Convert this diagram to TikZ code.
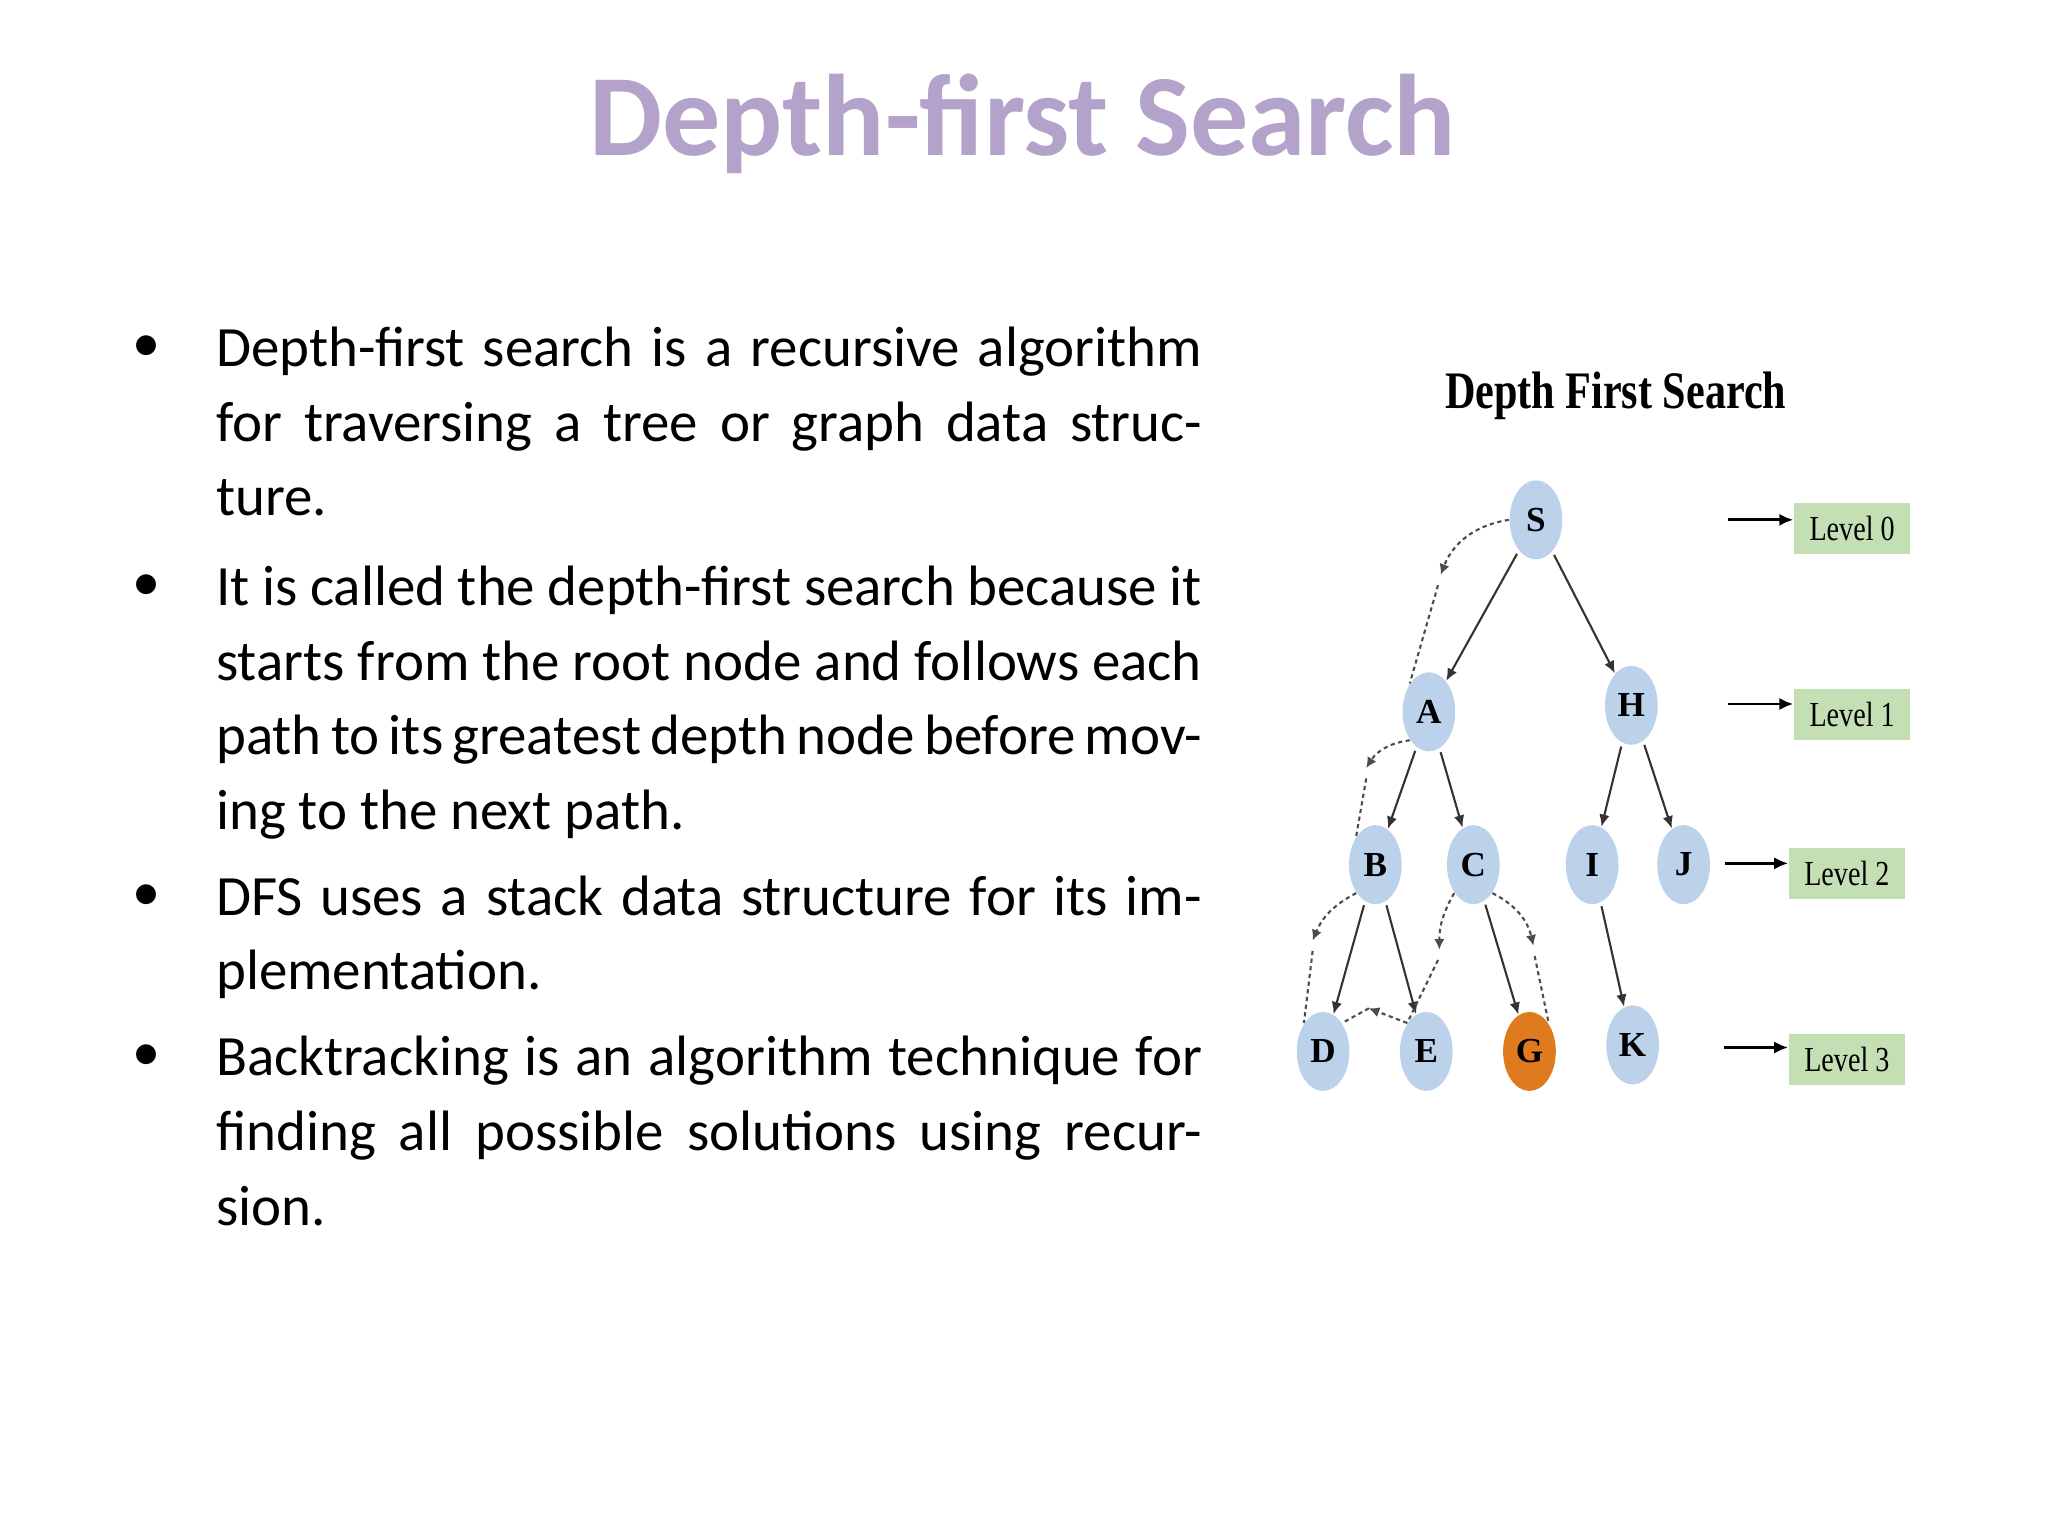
\documentclass[tikz,border=0pt]{standalone}
\usepackage{fontspec}
\setmainfont{Carlito}
\newfontfamily\treefont{Liberation Serif}
\usetikzlibrary{shapes.geometric,arrows.meta}
\definecolor{titlecol}{HTML}{B3A2C9}
\definecolor{nodeblue}{HTML}{BCD2EA}
\definecolor{nodeorange}{HTML}{DF7B1E}
\definecolor{lvlgreen}{HTML}{C4DFB3}
\newcommand\nohyph{\hyphenpenalty=10000\relax\exhyphenpenalty=10000\relax}
\tikzset{
 tnode/.style={ellipse,fill=nodeblue,minimum width=15pt,minimum height=22.5pt,inner sep=0pt,font=\treefont\bfseries\fontsize{10}{10}\selectfont},
 tedge/.style={draw=black!80,line width=0.6pt,-{Latex[length=3.5pt,width=3pt]},shorten <=1pt,shorten >=0pt},
 dfs/.style={draw=black!70,dashed,dash pattern=on 1.2pt off 1pt,line width=0.6pt},
 dfsarr/.style={dfs,-{Latex[length=3pt,width=3pt]}},
 lvl/.style={fill=lvlgreen,minimum width=33pt,minimum height=14.5pt,inner sep=0pt,font=\treefont\fontsize{10}{10}\selectfont},
 lvlarr/.style={draw=black,line width=0.8pt,-{Latex[length=4pt,width=3.5pt]}},
 item/.style={anchor=north west,text width=280.5pt,align=justify,inner sep=0pt,font=\fontsize{16.2}{21.2}\selectfont},
 bul/.style={font=\fontsize{16}{16}\selectfont,inner sep=0pt}
}
\begin{document}
\begin{tikzpicture}[x=0.01306cm,y=-0.01306cm]
\useasboundingbox (0,0) rectangle (1568,1176);
\node[font=\bfseries\fontsize{33}{36}\selectfont,text=titlecol] (title) at (783,95) {Depth-first Search};
\node[item] (i1) at (165,250) {\nohyph Depth-first search is a recursive algorithm for traversing a tree or graph data structure.};
\node[item] (i2) at (165,433) {\nohyph It is called the depth-first search because it starts from the root node and follows each path to its greatest depth node before moving to the next path.};
\node[item] (i3) at (165,670) {\nohyph DFS uses a stack data structure for its implementation.};
\node[item] (i4) at (165,793) {\nohyph Backtracking is an algorithm technique for finding all possible solutions using recursion.};
\node[bul] (b1) at (112,267) {•};
\node[bul] (b2) at (112,450) {•};
\node[bul] (b3) at (112,687) {•};
\node[bul] (b4) at (112,810) {•};
\node[font=\treefont\bfseries\fontsize{15}{15}\selectfont,xscale=0.8] (sub) at (1237,303) {Depth First Search};
\node[tnode] (S) at (1176,398) {S};
\node[tnode] (A) at (1094,545) {A};
\node[tnode] (H) at (1249,540) {H};
\node[tnode] (B) at (1053,662) {B};
\node[tnode] (C) at (1128,662) {C};
\node[tnode] (I) at (1219,662) {I};
\node[tnode] (J) at (1289,662) {J};
\node[tnode] (D) at (1013,805) {D};
\node[tnode] (E) at (1092,805) {E};
\node[tnode,fill=nodeorange] (G) at (1171,805) {G};
\node[tnode] (K) at (1250,800) {K};
\foreach \a/\b in {S/A,S/H,A/B,A/C,H/I,H/J,B/D,B/E,C/G,I/K} \draw[tedge] (\a) -- (\b);
\coordinate (p1) at (1103,440); \draw[dfsarr] (S.west) to[bend right=30] (p1); \draw[dfs] (1101,448) -- (A.north west);
\coordinate (p2) at (1046,588); \draw[dfsarr] (A.south west) to[bend right=25] (p2); \draw[dfs] (1046,596) -- (B.north west);
\coordinate (p3) at (1005,720); \draw[dfsarr] (B.south west) to[bend right=20] (p3); \draw[dfs] (1005,728) -- (D.north west);
\coordinate (p4) at (1048,772); \draw[dfsarr] (E.north west) -- (p4); \draw[dfs] (p4) -- (D.north east);
\coordinate (p5) at (1102,727); \draw[dfsarr] (C.south west) to[bend right=15] (p5); \draw[dfs] (1101,735) -- (E.north west);
\coordinate (p6) at (1174,724); \draw[dfsarr] (C.south east) to[bend left=25] (p6); \draw[dfs] (1175,732) -- (G.north east);
\node[lvl] (L0) at (1418,405) {\scalebox{0.8}[1]{Level 0}};
\node[lvl] (L1) at (1418,547) {\scalebox{0.8}[1]{Level 1}};
\node[lvl] (L2) at (1414,669) {\scalebox{0.8}[1]{Level 2}};
\node[lvl] (L3) at (1414,811) {\scalebox{0.8}[1]{Level 3}};
\coordinate (a0) at (1323,398); \coordinate (a1) at (1323,539); \coordinate (a2) at (1321,661); \coordinate (a3) at (1320,802);
\draw[lvlarr] (a0) -- (a0 -| L0.west);
\draw[lvlarr] (a1) -- (a1 -| L1.west);
\draw[lvlarr] (a2) -- (a2 -| L2.west);
\draw[lvlarr] (a3) -- (a3 -| L3.west);
\end{tikzpicture}
\end{document}
